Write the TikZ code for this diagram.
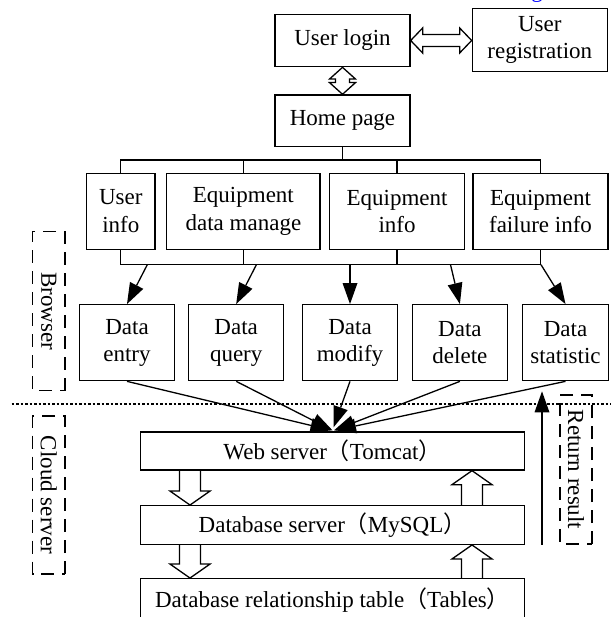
\documentclass[tikz,border=0pt]{standalone}
\usepackage{fontspec}
\setmainfont{Liberation Serif}
\newfontfamily\cjk{Noto Sans CJK SC}
\usetikzlibrary{calc}

% full-width brackets
\newcommand\fwl{{\cjk （}}
\newcommand\fwr{{\cjk ）}}

\tikzset{
  txt/.style={font=\fontsize{23}{27.5}\selectfont},
  box/.style={txt, draw, line width=1.3pt, inner sep=0pt, align=center},
  line/.style={line width=1.3pt},
  block/.style={draw, line width=1.3pt, line join=miter},
  group/.style={txt, draw, line width=1.3pt, dash pattern=on 13pt off 8pt,
                rotate=-90, inner sep=0pt},
  sep/.style={line width=1.3pt, dash pattern=on 2.5pt off 2pt},
}

% line from #1 ending in a solid triangular head at #2
\newcommand\arrowto[2]{%
  \coordinate (hb) at ($(#2)!21pt!(#1)$);
  \draw[line] (#1) -- (hb);
  \fill (#2) -- ($(hb)!7.5pt!90:(#2)$) -- ($(hb)!7.5pt!-90:(#2)$) -- cycle;}

% hollow block arrow: #1 tail point, #2 tip point, #3 = 1 points up, -1 points down
\newcommand\vblock[3]{%
  \draw[block] let \p1=(#1), \p2=(#2) in
    (\x1-10.5pt,\y1) -- (\x1-10.5pt,{\y2-(#3)*14pt}) -- (\x1-20pt,{\y2-(#3)*14pt})
    -- (\x1,\y2) -- (\x1+20pt,{\y2-(#3)*14pt}) -- (\x1+10.5pt,{\y2-(#3)*14pt})
    -- (\x1+10.5pt,\y1);}

% hollow horizontal double arrow between two points
\newcommand\hdouble[2]{%
  \draw[block] let \p1=(#1), \p2=(#2) in
    (\x1,\y1) -- (\x1+12pt,\y1+12.5pt) -- (\x1+12pt,\y1+6pt) -- (\x2-12pt,\y1+6pt)
    -- (\x2-12pt,\y1+12.5pt) -- (\x2,\y1) -- (\x2-12pt,\y1-12.5pt) -- (\x2-12pt,\y1-6pt)
    -- (\x1+12pt,\y1-6pt) -- (\x1+12pt,\y1-12.5pt) -- cycle;}

% hollow vertical double arrow, #1 upper point, #2 lower point
\newcommand\vdouble[2]{%
  \draw[block] let \p1=(#1), \p2=(#2) in
    (\x1,\y1) -- (\x1+13pt,\y1-11.7pt) -- (\x1+7pt,\y1-11.7pt) -- (\x1+7pt,\y2+11.7pt)
    -- (\x1+13pt,\y2+11.7pt) -- (\x1,\y2) -- (\x1-13pt,\y2+11.7pt) -- (\x1-7pt,\y2+11.7pt)
    -- (\x1-7pt,\y1-11.7pt) -- (\x1-13pt,\y1-11.7pt) -- cycle;}

\begin{document}
\begin{tikzpicture}[x=1pt,y=-1pt]
\useasboundingbox (0,0) rectangle (611,617);
\clip (0,0) rectangle (611,617);

% caption fragment above
\node[txt, text=blue, anchor=base, inner sep=0pt] (capg) at (537,-2) {g};

% login part
\node[box, minimum width=135pt, minimum height=52.4pt] (login) at (342.5,40.5) {User login};
\node[box, minimum width=135pt, minimum height=63.4pt] (reg) at (539.8,40) {User\\registration};
\node[box, minimum width=135pt, minimum height=51.7pt] (home) at (342.5,120.8) {Home page};
\hdouble{login.east}{login.east -| reg.west}
\vdouble{login.south}{home.north}

% modules
\node[box, minimum width=68.5pt, minimum height=76pt] (ui) at (120.8,211.3) {User\\info};
\node[box, minimum width=153.2pt, minimum height=76pt] (edm) at (243.4,211.3) {Equipment\\data manage};
\node[box, minimum width=134.8pt, minimum height=76pt] (ei) at (397.1,211.3) {Equipment\\info};
\node[box, minimum width=135pt, minimum height=76pt] (fi) at (540.5,211.3) {Equipment\\failure info};

\coordinate (bar1) at (0,160);
\coordinate (bar2) at (0,264.7);
\draw[line] (home.south) -- (home.south |- bar1);
\draw[line] (ui.north) -- (ui.north |- bar1) -- (fi.north |- bar1) -- (fi.north);
\draw[line] (edm.north) -- (edm.north |- bar1);
\draw[line] (ei.north) -- (ei.north |- bar1);
\draw[line] (ui.south) -- (ui.south |- bar2) -- (fi.south |- bar2) -- (fi.south);
\draw[line] (edm.south) -- (edm.south |- bar2);
\draw[line] (ei.south) -- (ei.south |- bar2);

% operations
\node[box, minimum width=95pt, minimum height=76pt] (entry) at (127,342.7) {Data\\entry};
\node[box, minimum width=95pt, minimum height=76pt] (query) at (236.2,342.7) {Data\\query};
\node[box, minimum width=95pt, minimum height=76pt] (modify) at (350,342.7) {Data\\modify};
\node[box, minimum width=95pt, minimum height=76pt] (delete) at (459.9,342.7) {Data\\delete};
\node[box, minimum width=85.6pt, minimum height=76pt] (stat) at (565.5,342.7) {Data\\statistic};

\coordinate (s1) at (147.3,264.7);
\coordinate (s2) at (256.4,264.7);
\coordinate (s3) at (350,264.7);
\coordinate (s4) at (450.5,264.7);
\coordinate (s5) at (541,264.7);
\arrowto{s1}{entry.north}
\arrowto{s2}{query.north}
\arrowto{s3}{modify.north}
\arrowto{s4}{delete.north}
\arrowto{s5}{stat.north}

% servers
\node[box, minimum width=384.3pt, minimum height=38pt] (web) at (332.5,451) {Web server\fwl Tomcat\fwr};
\node[box, minimum width=384.3pt, minimum height=38.6pt] (db) at (332.5,525) {Database server\fwl MySQL\fwr};
\node[box, minimum width=384.3pt, minimum height=42pt] (tab) at (332.5,599.7) {Database relationship table\fwl Tables\fwr};

\coordinate (t1) at ($(web.north)+(-1,-1)$);
\coordinate (t2) at ($(web.north)+(0,-1)$);
\coordinate (t3) at ($(web.north)+(1,-4)$);
\coordinate (t4) at ($(web.north)+(1.5,-1)$);
\coordinate (t5) at ($(web.north)+(2.5,-1)$);
\arrowto{entry.south}{t1}
\arrowto{query.south}{t2}
\arrowto{modify.south}{t3}
\arrowto{delete.south}{t4}
\arrowto{stat.south}{t5}

% block arrows between the server layers
\coordinate (d1a) at (190,0 |- web.south);
\coordinate (d1b) at (190,0 |- db.north);
\coordinate (d2a) at (190,0 |- db.south);
\coordinate (d2b) at (190,0 |- tab.north);
\coordinate (u1a) at (472,0 |- db.north);
\coordinate (u1b) at (472,0 |- web.south);
\coordinate (u2a) at (472,0 |- tab.north);
\coordinate (u2b) at (472,0 |- db.south);
\vblock{d1a}{d1b}{-1}
\vblock{d2a}{d2b}{-1}
\vblock{u1a}{u1b}{1}
\vblock{u2a}{u2b}{1}

% return path
\coordinate (ra) at (542,0 |- db.south);
\coordinate (rb) at ($(542,0 |- stat.south)+(0,10)$);
\arrowto{ra}{rb}

% layer separator and group labels
\coordinate (sepL) at (11.7,404);
\coordinate (sepR) at (611,404);
\draw[sep] (sepL) -- (sepR);
\node[group, minimum width=159pt, minimum height=32.3pt] (browser) at (48.85,311.2) {Browser};
\node[group, minimum width=158pt, minimum height=32.3pt] (cloud) at (48.85,495) {Cloud server};
\node[group, minimum width=149pt, minimum height=32pt] (ret) at (576,469.5) {Return result};
\end{tikzpicture}
\end{document}
